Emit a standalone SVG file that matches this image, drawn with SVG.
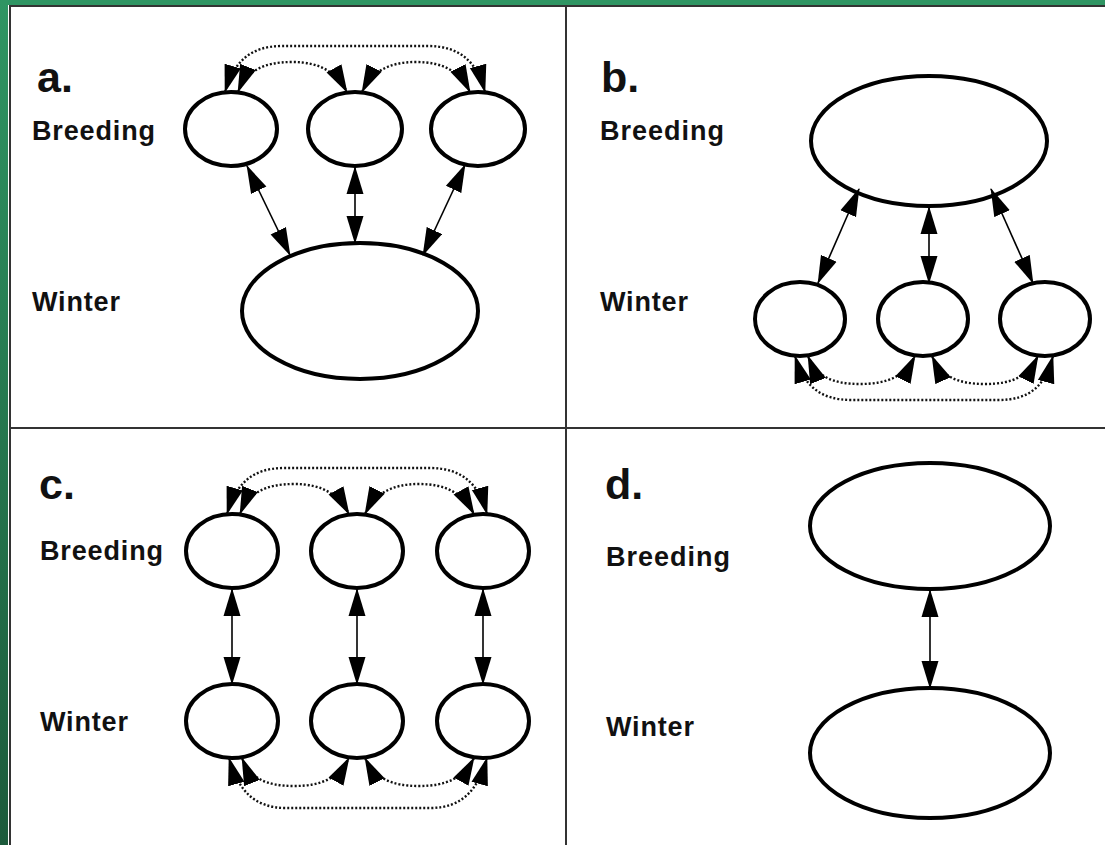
<svg xmlns="http://www.w3.org/2000/svg" width="1105" height="845" viewBox="0 0 1105 845">
<defs>
<style>
.frame{stroke:#333;stroke-width:2;fill:none}
.node{fill:#fff;stroke:#000;stroke-width:4}
.link{stroke:#000;stroke-width:1.6;fill:none;marker-start:url(#ah);marker-end:url(#ah)}
.dot{stroke:#111;stroke-width:2.4;stroke-dasharray:2 2;fill:none;marker-start:url(#ah);marker-end:url(#ah)}
.lbl{font-family:"Liberation Sans",Arial,sans-serif;font-weight:bold;font-size:27px;fill:#111}
.pl{font-family:"Liberation Sans",Arial,sans-serif;font-weight:bold;font-size:43px;fill:#111}
</style>
<marker id="ah" markerUnits="userSpaceOnUse" markerWidth="28" markerHeight="18" viewBox="0 0 28 18" refX="27" refY="9" orient="auto-start-reverse">
<path d="M0,0.5 L28,9 L0,17.5 z" fill="#000"/>
</marker>
<linearGradient id="gl" x1="0" y1="0" x2="0" y2="1">
<stop offset="0" stop-color="#2f9563"/>
<stop offset="1" stop-color="#1c5a3b"/>
</linearGradient>
</defs>
<rect width="1105" height="845" fill="#fff"/>
<rect x="0" y="0" width="1105" height="5" fill="#2f9563"/>
<rect x="0" y="0" width="8" height="845" fill="url(#gl)"/>
<g id="frame">
<line class="frame" x1="9" y1="6" x2="1105" y2="6"/>
<line class="frame" x1="10" y1="6" x2="10" y2="845"/>
<line class="frame" x1="566" y1="6" x2="566" y2="845"/>
<line class="frame" x1="10" y1="428" x2="1105" y2="428"/>
</g>
<g id="labels">
<text class="pl" x="37" y="92">a.</text>
<text class="pl" x="601" y="92">b.</text>
<text class="pl" x="39" y="499">c.</text>
<text class="pl" x="605" y="499">d.</text>
<text class="lbl" x="32" y="140" textLength="123" lengthAdjust="spacing">Breeding</text>
<text class="lbl" x="32" y="311" textLength="88" lengthAdjust="spacing">Winter</text>
<text class="lbl" x="600" y="140" textLength="124" lengthAdjust="spacing">Breeding</text>
<text class="lbl" x="600" y="311" textLength="88" lengthAdjust="spacing">Winter</text>
<text class="lbl" x="40" y="560" textLength="123" lengthAdjust="spacing">Breeding</text>
<text class="lbl" x="40" y="731" textLength="88" lengthAdjust="spacing">Winter</text>
<text class="lbl" x="606" y="566" textLength="124" lengthAdjust="spacing">Breeding</text>
<text class="lbl" x="606" y="736" textLength="88" lengthAdjust="spacing">Winter</text>
</g>
<g id="a-b1"><ellipse class="node" cx="231" cy="129" rx="46" ry="37"/></g>
<g id="a-b2"><ellipse class="node" cx="355" cy="129" rx="47" ry="37"/></g>
<g id="a-b3"><ellipse class="node" cx="478" cy="129" rx="47" ry="37"/></g>
<g id="a-w"><ellipse class="node" cx="360" cy="311" rx="118" ry="68"/></g>
<g id="b-b"><ellipse class="node" cx="929" cy="141" rx="118" ry="65"/></g>
<g id="b-w1"><ellipse class="node" cx="800" cy="319" rx="45" ry="37"/></g>
<g id="b-w2"><ellipse class="node" cx="923" cy="319" rx="45" ry="37"/></g>
<g id="b-w3"><ellipse class="node" cx="1045" cy="319" rx="45" ry="37"/></g>
<g id="c-b1"><ellipse class="node" cx="232" cy="551" rx="46" ry="37"/></g>
<g id="c-b2"><ellipse class="node" cx="357" cy="551" rx="46" ry="37"/></g>
<g id="c-b3"><ellipse class="node" cx="483" cy="551" rx="46" ry="37"/></g>
<g id="c-w1"><ellipse class="node" cx="232" cy="721" rx="46" ry="37"/></g>
<g id="c-w2"><ellipse class="node" cx="357" cy="721" rx="46" ry="37"/></g>
<g id="c-w3"><ellipse class="node" cx="483" cy="721" rx="46" ry="37"/></g>
<g id="d-b"><ellipse class="node" cx="930" cy="526" rx="120" ry="63"/></g>
<g id="d-w"><ellipse class="node" cx="930" cy="753" rx="120" ry="65"/></g>
<g id="connectors">
<!-- panel a -->
<line class="link" x1="247" y1="166" x2="290" y2="255"/>
<line class="link" x1="355" y1="167" x2="355" y2="243"/>
<line class="link" x1="465" y1="165" x2="423" y2="255"/>
<path class="dot" d="M225,92 C234,62 250,46 282,46 L428,46 C460,46 477,62 485,92"/>
<path class="dot" d="M238,92 C246,72 262,62 292,62 C320,62 336,72 347,92"/>
<path class="dot" d="M362,92 C372,72 388,62 416,62 C444,62 460,72 470,92"/>
<!-- panel b -->
<line class="link" x1="859" y1="189" x2="818" y2="283"/>
<line class="link" x1="929" y1="207" x2="929" y2="283"/>
<line class="link" x1="991" y1="189" x2="1033" y2="283"/>
<path class="dot" d="M795,356 C804,386 820,400 852,400 L998,400 C1030,400 1045,386 1053,356"/>
<path class="dot" d="M808,356 C816,376 832,384 860,384 C888,384 905,376 915,356"/>
<path class="dot" d="M932,356 C941,376 957,384 985,384 C1013,384 1028,376 1038,356"/>
<!-- panel c -->
<line class="link" x1="232" y1="589" x2="232" y2="684"/>
<line class="link" x1="357" y1="589" x2="357" y2="684"/>
<line class="link" x1="483" y1="589" x2="483" y2="684"/>
<path class="dot" d="M227,514 C236,484 252,468 284,468 L430,468 C462,468 479,484 487,514"/>
<path class="dot" d="M240,514 C248,494 264,484 294,484 C322,484 338,494 349,514"/>
<path class="dot" d="M365,514 C375,494 391,484 419,484 C447,484 463,494 474,514"/>
<path class="dot" d="M229,758 C238,790 254,808 286,808 L430,808 C462,808 478,790 487,758"/>
<path class="dot" d="M242,758 C250,778 266,786 294,786 C322,786 338,778 349,758"/>
<path class="dot" d="M365,758 C375,778 391,786 419,786 C447,786 463,778 474,758"/>
<!-- panel d -->
<line class="link" x1="930" y1="590" x2="930" y2="688"/>
</g>
</svg>
